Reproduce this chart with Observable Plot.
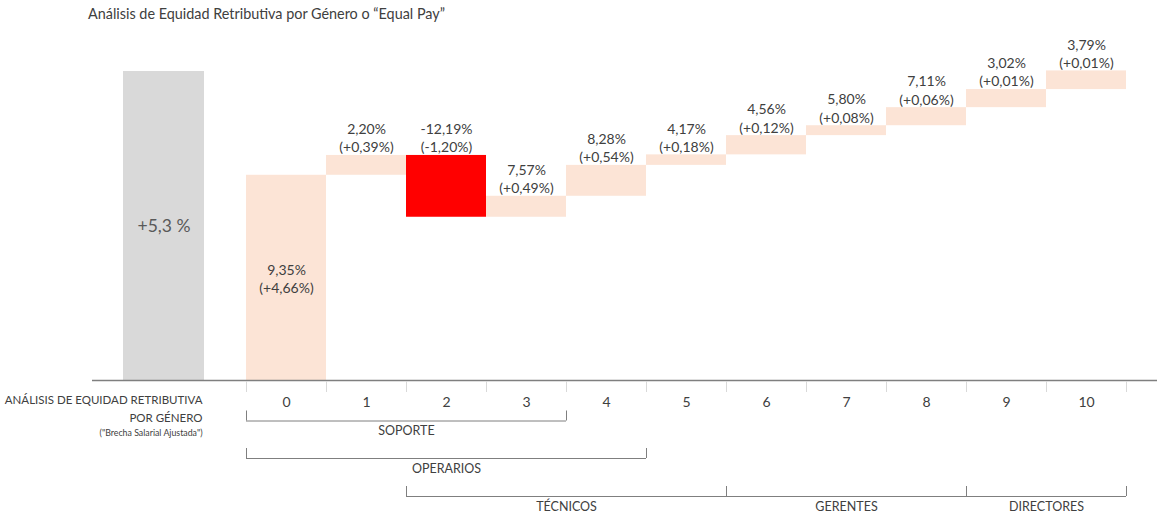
<!DOCTYPE html>
<html><head><meta charset="utf-8">
<script src="https://cdn.jsdelivr.net/npm/d3@7"></script>
<script src="https://cdn.jsdelivr.net/npm/@observablehq/plot@0.6"></script>
<style>
body{margin:0;background:#fff;font-family:Lato,"Open Sans",sans-serif;}
#title{height:28px;line-height:28px;padding-left:88px;font-size:14.4px;color:#404040;white-space:nowrap;}
#chart svg{display:block;}
</style></head><body>
<div id="title">Análisis de Equidad Retributiva por Género o “Equal Pay”</div>
<div id="chart"></div>
<script>
// ---- data ----
const categories = ["0","1","2","3","4","5","6","7","8","9","10"];
// visual step heights of the waterfall (same units as the total)
const deltas = [3.52, 0.34, -1.06, 0.36, 0.53, 0.18, 0.33, 0.17, 0.31, 0.31, 0.32];
const gapLabels = ["9,35%","2,20%","-12,19%","7,57%","8,28%","4,17%","4,56%","5,80%","7,11%","3,02%","3,79%"];
const contribLabels = ["(+4,66%)","(+0,39%)","(-1,20%)","(+0,49%)","(+0,54%)","(+0,18%)","(+0,12%)","(+0,08%)","(+0,06%)","(+0,01%)","(+0,01%)"];
const totalValue = 5.3;
const totalLabel = "+5,3 %";
const groupNames = ["SOPORTE","OPERARIOS","TÉCNICOS","GERENTES","DIRECTORES"];
const groupFirst = [0, 0, 2, 6, 9];
const groupLast  = [3, 4, 5, 8, 10];
const leftLabels = ["ANÁLISIS DE EQUIDAD RETRIBUTIVA","POR GÉNERO","(\"Brecha Salarial Ajustada\")"];

// ---- layout helpers ----
const W = 1157, H = 486, basePx = 352, topPx = 43;
const X = p => (p - 246) / 80;                    // pixel -> x units
const Y = p => (basePx - p) * totalValue / (basePx - topPx); // pixel -> y units
const groupRow = [0, 1, 2, 2, 2];
const rowLine = [392.5, 430, 468];
const rowText = [402, 440, 478];

let cum = 0;
const rows = deltas.map((d, i) => {
  const start = cum; cum += d;
  return {i, cat: categories[i], start, end: cum, delta: d,
          text: gapLabels[i] + "\n" + contribLabels[i]};
});
const groups = groupNames.map((name, k) => ({name, x1: groupFirst[k], x2: groupLast[k] + 1, row: groupRow[k]}));
const ends = groups.flatMap(g => [{x: g.x1, row: g.row}, {x: g.x2, row: g.row}]);

const txt = "#404040";
const chart = Plot.plot({
  width: W, height: H,
  marginLeft: 0, marginRight: 0, marginTop: topPx, marginBottom: H - basePx,
  x: {domain: [X(0), X(W)], range: [0, W], axis: null},
  y: {domain: [0, totalValue], axis: null},
  style: {fontFamily: "Lato, 'Open Sans', sans-serif", background: "#fff"},
  marks: [
    Plot.rectY([totalValue], {x1: X(123), x2: X(204), y1: 0, y2: d => d, fill: "#d9d9d9"}),
    Plot.text([totalLabel], {x: (X(123) + X(204)) / 2, y: totalValue / 2, text: d => d, fontSize: 17.5, fill: "#595959"}),
    Plot.rectY(rows.filter(r => r.delta >= 0), {x1: "i", x2: r => r.i + 1, y1: "start", y2: "end", fill: "#fce4d6"}),
    Plot.rectY(rows.filter(r => r.delta < 0), {x1: "i", x2: r => r.i + 1, y1: "start", y2: "end", fill: "#ff0000"}),
    Plot.text(rows.filter(r => r.i === 0), {x: r => r.i + 0.5, y: r => (r.start + r.end) / 2, text: "text", fontSize: 14, lineHeight: 1.3, fill: txt}),
    Plot.text(rows.filter(r => r.i > 0), {x: r => r.i + 0.5, y: r => Math.max(r.start, r.end), dy: -18, text: "text", fontSize: 14, lineHeight: 1.3, fill: txt}),
    Plot.ruleY([0], {x1: X(92), x2: X(W), stroke: "#7f7f7f", strokeWidth: 1.3}),
    Plot.ruleX(d3.range(categories.length + 1), {y1: Y(353), y2: Y(364), stroke: "#d9d9d9"}),
    Plot.text(categories, {x: (d, i) => i + 0.5, y: Y(374), text: d => d, fontSize: 14, fill: txt}),
    Plot.ruleY(groups, {x1: "x1", x2: "x2", y: g => Y(rowLine[g.row]), stroke: "#7f7f7f"}),
    Plot.ruleX(ends, {x: "x", y1: e => Y(rowLine[e.row]), y2: e => Y(rowLine[e.row] - 10), stroke: "#7f7f7f"}),
    Plot.text(groups, {x: g => (g.x1 + g.x2) / 2, y: g => Y(rowText[g.row]), text: "name", fontSize: 12.5, fill: txt}),
    Plot.text(leftLabels.slice(0, 2), {x: X(202), y: (d, i) => Y([372, 390][i]), text: d => d, textAnchor: "end", fontSize: 11.5, fill: txt}),
    Plot.text(leftLabels.slice(2), {x: X(202), y: Y(405), text: d => d, textAnchor: "end", fontSize: 8.8, fill: txt})
  ]
});
document.getElementById("chart").appendChild(chart);
</script>
</body></html>
